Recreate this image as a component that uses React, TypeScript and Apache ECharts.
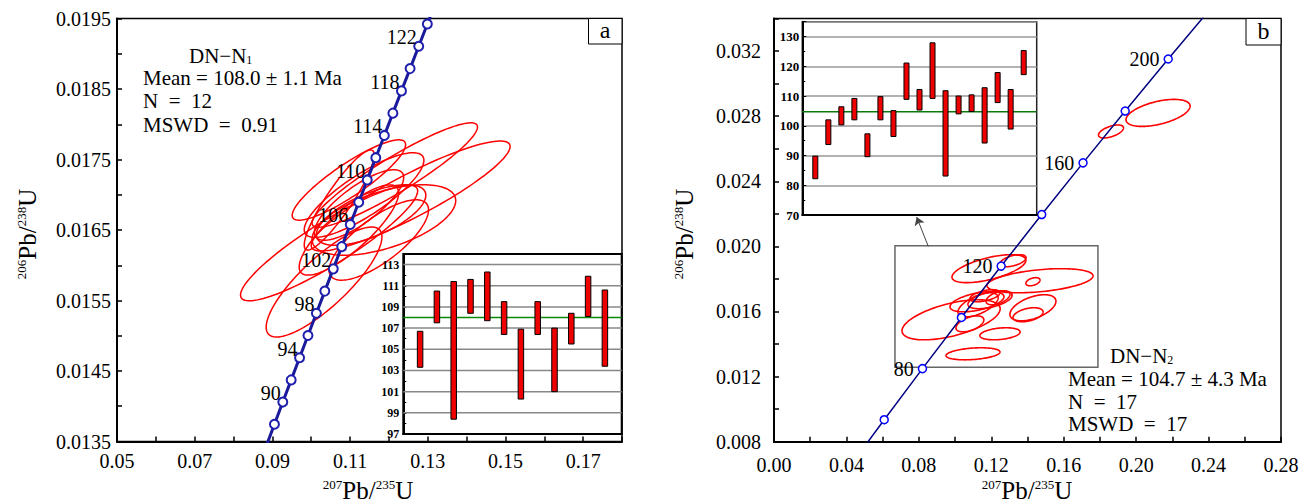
import React, { useEffect, useRef } from 'react';
import * as echarts from 'echarts';

const FONT = '"Liberation Serif", "Times New Roman", serif';

// ---------- Panel a : concordia (206Pb/238U vs 207Pb/235U), ages in Ma ----------
const concAgesA = [86, 88, 90, 92, 94, 96, 98, 100, 102, 104, 106, 108, 110, 112, 114, 116, 118, 120, 122, 124, 126];
const concXA = [0.08839, 0.09053, 0.09268, 0.09484, 0.0970, 0.09916, 0.10133, 0.10350, 0.10567, 0.10785, 0.11004, 0.11223, 0.11442, 0.11662, 0.11882, 0.12102, 0.12323, 0.12545, 0.12767, 0.12989, 0.13212];
const concYA = [0.013430, 0.0137446, 0.0140592, 0.0143738, 0.0146886, 0.0150034, 0.0153184, 0.0156334, 0.0159486, 0.0162638, 0.0165792, 0.0168946, 0.0172102, 0.0175258, 0.0178415, 0.0181574, 0.0184733, 0.0187894, 0.0191055, 0.0194217, 0.019738];
const concLabelsA = [90, 94, 98, 102, 106, 110, 114, 118, 122];

// ---------- Panel b : concordia ----------
const concAgesB = [40, 60, 80, 100, 120, 140, 160, 180, 200, 220];
const concXB = [0.04018, 0.06087, 0.08198, 0.10350, 0.12545, 0.14784, 0.17067, 0.19396, 0.21771, 0.24193];
const concYB = [0.0062243, 0.0093509, 0.0124873, 0.0156334, 0.0187894, 0.021955, 0.0251306, 0.028316, 0.0315113, 0.0347165];
const concMarkersB = [60, 80, 100, 120, 140, 160, 180, 200];
const concLabelsB = [80, 120, 160, 200];

// ---------- Error ellipses: [207/235 centre, 206/238 centre, sigma x, sigma y, rho] ----------
const ellipsesA = [
  [0.1046, 0.016316, 0.0228, 0.00082, 0.90],
  [0.1033, 0.015762, 0.0149, 0.00078, 0.82],
  [0.1215, 0.01728, 0.0213, 0.00074, 0.92],
  [0.1256, 0.016982, 0.0256, 0.00078, 0.90],
  [0.1097, 0.017209, 0.0146, 0.00057, 0.88],
  [0.1136, 0.016996, 0.0154, 0.0006, 0.82],
  [0.1154, 0.016713, 0.0141, 0.00043, 0.65],
  [0.1187, 0.016642, 0.0185, 0.0005, 0.55],
  [0.1123, 0.016855, 0.0115, 0.0005, 0.78],
  [0.1097, 0.0165, 0.0128, 0.00064, 0.82],
  [0.1072, 0.016926, 0.0090, 0.00071, 0.90],
  [0.1174, 0.016358, 0.0128, 0.00057, 0.75],
];
const ellipsesB = [
  [0.2121, 0.0282, 0.0177, 0.00083, 0.5],
  [0.1861, 0.02706, 0.0069, 0.0004, 0.55],
  [0.1187, 0.01863, 0.0204, 0.00086, 0.6],
  [0.1320, 0.01912, 0.0072, 0.00037, 0.5],
  [0.1469, 0.01789, 0.0293, 0.00074, 0.4],
  [0.1430, 0.01783, 0.0039, 0.00025, 0.4],
  [0.1121, 0.0166, 0.0149, 0.00062, 0.5],
  [0.1193, 0.01672, 0.0122, 0.00055, 0.5],
  [0.1165, 0.01697, 0.0083, 0.00037, 0.5],
  [0.1430, 0.01623, 0.0127, 0.0008, 0.5],
  [0.1403, 0.0158, 0.0083, 0.00043, 0.4],
  [0.0978, 0.01549, 0.0271, 0.00123, 0.55],
  [0.1248, 0.01463, 0.0111, 0.00037, 0.3],
  [0.1099, 0.0134, 0.0149, 0.00037, 0.3],
  [0.1082, 0.01524, 0.0077, 0.00049, 0.5],
  [0.1237, 0.01684, 0.0066, 0.00043, 0.5],
  [0.1127, 0.01641, 0.0111, 0.00074, 0.6],
];

// zoom box (x0, x1, y0, y1) and arrow in panel b
const zoomBoxB = [0.0668, 0.1789, 0.01258, 0.02004];
const arrowB = [[0.0852, 0.0200], [0.0788, 0.0218]];

// ---------- Inset a: weighted-mean age bars (Ma) ----------
const insetLoA = [103.3, 107.5, 98.4, 108.4, 107.7, 106.4, 100.3, 106.4, 101.0, 105.5, 108.1, 103.4];
const insetHiA = [106.7, 110.5, 111.4, 111.6, 112.3, 109.5, 106.9, 109.5, 107.0, 108.4, 111.9, 110.6];
const insetGridA = [99, 101, 103, 105, 107, 109, 111, 113];
const meanA = 108.0;

// ---------- Inset b ----------
const insetLoB = [82.2, 93.7, 100.3, 102.0, 89.6, 102.0, 96.4, 108.9, 105.3, 109.2, 83.1, 104.0, 104.8, 94.2, 107.8, 98.9, 117.2];
const insetHiB = [89.8, 102.0, 106.4, 109.2, 97.3, 109.8, 105.1, 121.1, 112.2, 127.9, 111.8, 110.0, 110.4, 112.8, 117.9, 112.2, 125.3];
const meanB = 104.7;

const ellipseRender = (color: string, lw: number) => (params: any, api: any) => {
  const cx = api.value(0), cy = api.value(1), sx = api.value(2), sy = api.value(3), r = api.value(4);
  const k = Math.sqrt(1 - r * r);
  const pts: number[][] = [];
  const n = 120;
  for (let i = 0; i < n; i++) {
    const t = (i / n) * Math.PI * 2;
    pts.push(api.coord([cx + sx * Math.cos(t), cy + sy * (r * Math.cos(t) + k * Math.sin(t))]));
  }
  return { type: 'polygon', shape: { points: pts }, style: { fill: 'none', stroke: color, lineWidth: lw } };
};

const hLineRender = (color: string, lw: number) => (params: any, api: any) => {
  const cs = params.coordSys;
  const y = api.coord([0, api.value(1)])[1];
  return { type: 'line', shape: { x1: cs.x, y1: y, x2: cs.x + cs.width, y2: y }, style: { stroke: color, lineWidth: lw } };
};

const barRender = (w: number) => (params: any, api: any) => {
  const i = api.value(0);
  const top = api.coord([i, api.value(2)]);
  const bot = api.coord([i, api.value(1)]);
  return {
    type: 'rect',
    shape: { x: top[0] - w / 2, y: top[1], width: w, height: bot[1] - top[1] },
    style: { fill: '#ee0000', stroke: '#000', lineWidth: 1 },
  };
};

const mainAxis = (grid: number, min: number, max: number, interval: number, show: (v: number) => boolean, dec: number, margin: number) => ({
  gridIndex: grid, type: 'value', min, max, interval,
  axisLine: { show: true, onZero: false, lineStyle: { color: '#000', width: 2 } },
  axisTick: { show: true, inside: true, length: 5, lineStyle: { color: '#000', width: 1.5 } },
  axisLabel: {
    show: true, margin, color: '#000', fontSize: 20, fontFamily: FONT, hideOverlap: false,
    formatter: (v: number) => (show(v) ? v.toFixed(dec) : ''),
  },
  splitLine: { show: false },
});

const insetXAxis = (grid: number, max: number) => ({
  gridIndex: grid, type: 'value', min: 0, max, z: 10,
  axisLine: { show: true, onZero: false, lineStyle: { color: '#000', width: 2 } },
  axisTick: { show: false }, axisLabel: { show: false }, splitLine: { show: false },
});

const rich = {
  s: { fontSize: 13, fontFamily: FONT, verticalAlign: 'top', fill: '#000' },
  m: { fontSize: 25, fontFamily: FONT, fill: '#000' },
};
const richSub = {
  m: { fontSize: 21, fontFamily: FONT, fill: '#000', lineHeight: 19 },
  b: { fontSize: 12, fontFamily: FONT, verticalAlign: 'bottom', fill: '#000', lineHeight: 19 },
};

const txt = (x: number, y: number, text: string, extra: any = {}) => ({
  type: 'text', x, y, z: 50,
  style: { text, fill: '#000', font: `21px ${FONT}`, lineHeight: 19, align: 'left', verticalAlign: 'middle', ...extra },
});

export default function App() {
  const ref = useRef<HTMLDivElement>(null);
  useEffect(() => {
    const chart = echarts.init(ref.current!, null, { renderer: 'svg' });

    const markersA = concAgesA.slice(1, -1).map((age, j) => ({
      value: [concXA[j + 1], concYA[j + 1]],
      label: { show: concLabelsA.includes(age), formatter: String(age) },
    }));
    const markersB = concAgesB
      .map((age, i) => ({ age, i }))
      .filter((d) => concMarkersB.includes(d.age))
      .map((d) => ({
        value: [concXB[d.i], concYB[d.i]],
        label: { show: concLabelsB.includes(d.age), formatter: String(d.age) },
      }));

    const option: any = {
      animation: false,
      textStyle: { fontFamily: FONT },
      grid: [
        { left: 117, top: 18.5, width: 505, height: 423, show: true, borderColor: '#000', borderWidth: 1.5, backgroundColor: 'transparent', outerBoundsMode: 'none', z: 0 },
        { left: 403.3, top: 254, width: 218.4, height: 180, show: true, borderColor: '#000', borderWidth: 2, backgroundColor: '#fff', outerBoundsMode: 'none', z: 10 },
        { left: 774, top: 18.5, width: 507, height: 423.2, show: true, borderColor: '#000', borderWidth: 1.5, backgroundColor: 'transparent', outerBoundsMode: 'none', z: 0 },
        { left: 802.3, top: 21.7, width: 234.4, height: 193.3, show: true, borderColor: '#222', borderWidth: 1.5, backgroundColor: '#fff', outerBoundsMode: 'none', z: 10 },
      ],
      xAxis: [
        mainAxis(0, 0.05, 0.18, 0.01, (v) => Math.round(v * 100) % 2 === 1, 2, 9),
        insetXAxis(1, 13),
        mainAxis(2, 0, 0.28, 0.02, (v) => Math.round(v * 100) % 4 === 0, 2, 13),
        insetXAxis(3, 18),
      ],
      yAxis: [
        mainAxis(0, 0.0135, 0.0195, 0.0005, (v) => Math.round(v * 10000) % 10 === 5, 4, 6),
        {
          gridIndex: 1, type: 'value', min: 97, max: 114, interval: 1, z: 10,
          axisLine: { show: true, onZero: false, lineStyle: { color: '#000', width: 2 } },
          axisTick: { show: true, inside: true, length: 3, lineStyle: { color: '#000', width: 1 } },
          axisLabel: {
            show: true, margin: 4, color: '#000', fontSize: 12, fontWeight: 'bold', fontFamily: FONT, hideOverlap: false,
            formatter: (v: number) => (Math.round(v) % 2 === 1 && v < 113.5 ? String(Math.round(v)) : ''),
          },
          splitLine: { show: false },
        },
        mainAxis(2, 0.008, 0.034, 0.002, (v) => Math.round(v * 1000) % 4 === 0 && v < 0.033, 3, 13),
        {
          gridIndex: 3, type: 'value', min: 70, max: 135, interval: 10, z: 10,
          axisLine: { show: true, onZero: false, lineStyle: { color: '#000', width: 2 } },
          axisTick: { show: true, inside: true, length: 4, lineStyle: { color: '#000', width: 1 } },
          minorTick: { show: true, splitNumber: 2, length: 3, lineStyle: { color: '#000', width: 1 } },
          axisLabel: {
            show: true, margin: 3, color: '#000', fontSize: 13, fontWeight: 'bold', fontFamily: FONT, hideOverlap: false,
            formatter: (v: number) => (Math.round(v) % 10 === 0 && v <= 130 ? String(Math.round(v)) : ''),
          },
          splitLine: { show: true, lineStyle: { color: '#999', width: 1.5 } },
        },
      ],
      series: [
        // panel a
        {
          type: 'custom', xAxisIndex: 0, yAxisIndex: 0, silent: true, z: 3,
          renderItem: ellipseRender('#ff0000', 1.5), encode: { x: 0, y: 1 }, data: ellipsesA,
        },
        {
          type: 'line', xAxisIndex: 0, yAxisIndex: 0, silent: true, z: 4, clip: true,
          symbol: 'none', showSymbol: false, lineStyle: { color: '#1a1a9c', width: 3 },
          data: concXA.map((x, i) => [x, concYA[i]]),
        },
        {
          type: 'scatter', xAxisIndex: 0, yAxisIndex: 0, silent: true, z: 5,
          symbol: 'circle', symbolSize: 9,
          itemStyle: { color: '#fff', borderColor: '#1f1fae', borderWidth: 2, opacity: 1 },
          label: { position: 'left', distance: 0, offset: [3.5, -9], fontSize: 20, fontFamily: FONT, color: '#000' },
          data: markersA,
        },
        // inset a
        {
          type: 'custom', xAxisIndex: 1, yAxisIndex: 1, silent: true, z: 11,
          renderItem: hLineRender('#888', 1.5), encode: { x: 0, y: 1 },
          data: insetGridA.map((v) => [0, v]),
        },
        {
          type: 'custom', xAxisIndex: 1, yAxisIndex: 1, silent: true, z: 12,
          renderItem: hLineRender('#0a8a0a', 1.5), encode: { x: 0, y: 1 },
          data: [[0, meanA]],
        },
        {
          type: 'custom', xAxisIndex: 1, yAxisIndex: 1, silent: true, z: 13,
          renderItem: barRender(5.5), encode: { x: 0, y: [1, 2] },
          data: insetLoA.map((lo, i) => [i + 1, lo, insetHiA[i]]),
        },
        // panel b
        {
          type: 'custom', xAxisIndex: 2, yAxisIndex: 2, silent: true, z: 3,
          renderItem: ellipseRender('#ff0000', 1.6), encode: { x: 0, y: 1 }, data: ellipsesB,
          markArea: {
            silent: true,
            itemStyle: { color: 'rgba(0,0,0,0)', borderColor: '#666', borderWidth: 1.5 },
            data: [[{ coord: [zoomBoxB[0], zoomBoxB[3]] }, { coord: [zoomBoxB[1], zoomBoxB[2]] }]],
          },
          markLine: {
            silent: true, symbol: ['none', 'arrow'], symbolSize: 8,
            lineStyle: { color: '#444', width: 1, type: 'solid' }, label: { show: false },
            data: [[{ coord: arrowB[0] }, { coord: arrowB[1] }]],
          },
        },
        {
          type: 'line', xAxisIndex: 2, yAxisIndex: 2, silent: true, z: 4, clip: true,
          symbol: 'none', showSymbol: false, lineStyle: { color: '#000080', width: 1.5 },
          data: concXB.map((x, i) => [x, concYB[i]]),
        },
        {
          type: 'scatter', xAxisIndex: 2, yAxisIndex: 2, silent: true, z: 5,
          symbol: 'circle', symbolSize: 8,
          itemStyle: { color: '#fff', borderColor: '#0000ff', borderWidth: 1.5, opacity: 1 },
          label: { position: 'left', distance: 4, fontSize: 20, fontFamily: FONT, color: '#000' },
          data: markersB,
        },
        // inset b
        {
          type: 'custom', xAxisIndex: 3, yAxisIndex: 3, silent: true, z: 12,
          renderItem: hLineRender('#0a7a0a', 1.5), encode: { x: 0, y: 1 },
          data: [[0, meanB]],
        },
        {
          type: 'custom', xAxisIndex: 3, yAxisIndex: 3, silent: true, z: 13,
          renderItem: barRender(5), encode: { x: 0, y: [1, 2] },
          data: insetLoB.map((lo, i) => [i + 1, lo, insetHiB[i]]),
        },
      ],
      graphic: [
        // axis titles
        { type: 'text', x: 368, y: 490, z: 50, style: { text: '{s|207}{m|Pb/}{s|235}{m|U}', rich, align: 'center', verticalAlign: 'middle' } },
        { type: 'text', x: 27, y: 234, rotation: Math.PI / 2, z: 50, style: { text: '{s|206}{m|Pb/}{s|238}{m|U}', rich, align: 'center', verticalAlign: 'middle' } },
        { type: 'text', x: 1027, y: 490, z: 50, style: { text: '{s|207}{m|Pb/}{s|235}{m|U}', rich, align: 'center', verticalAlign: 'middle' } },
        { type: 'text', x: 684, y: 234, rotation: Math.PI / 2, z: 50, style: { text: '{s|206}{m|Pb/}{s|238}{m|U}', rich, align: 'center', verticalAlign: 'middle' } },
        // panel labels
        { type: 'rect', z: 40, shape: { x: 588.5, y: 18.5, width: 33.5, height: 25.5 }, style: { fill: '#fff', stroke: '#000', lineWidth: 1 } },
        { type: 'text', x: 605, y: 30, z: 50, style: { text: 'a', fill: '#000', font: `24px ${FONT}`, align: 'center', verticalAlign: 'middle' } },
        { type: 'rect', z: 40, shape: { x: 1246, y: 18.5, width: 35, height: 26.5 }, style: { fill: '#fff', stroke: '#000', lineWidth: 1 } },
        { type: 'text', x: 1263.5, y: 31, z: 50, style: { text: 'b', fill: '#000', font: `24px ${FONT}`, align: 'center', verticalAlign: 'middle' } },
        // statistics a
        txt(189, 56, '{m|DN−N}{b|1}', { rich: richSub }),
        txt(143, 78, 'Mean = 108.0 ± 1.1 Ma'),
        txt(143, 101, 'N  =  12'),
        txt(143, 125, 'MSWD  =  0.91'),
        // statistics b
        txt(1110, 356, '{m|DN−N}{b|2}', { rich: richSub }),
        txt(1068, 379, 'Mean = 104.7 ± 4.3 Ma'),
        txt(1068, 402, 'N  =  17'),
        txt(1068, 424, 'MSWD  =  17'),
      ],
    };
    chart.setOption(option);
    return () => chart.dispose();
  }, []);
  return <div ref={ref} style={{ position: 'fixed', left: 0, top: 0, width: 1310, height: 503, background: '#fff' }} />;
}
